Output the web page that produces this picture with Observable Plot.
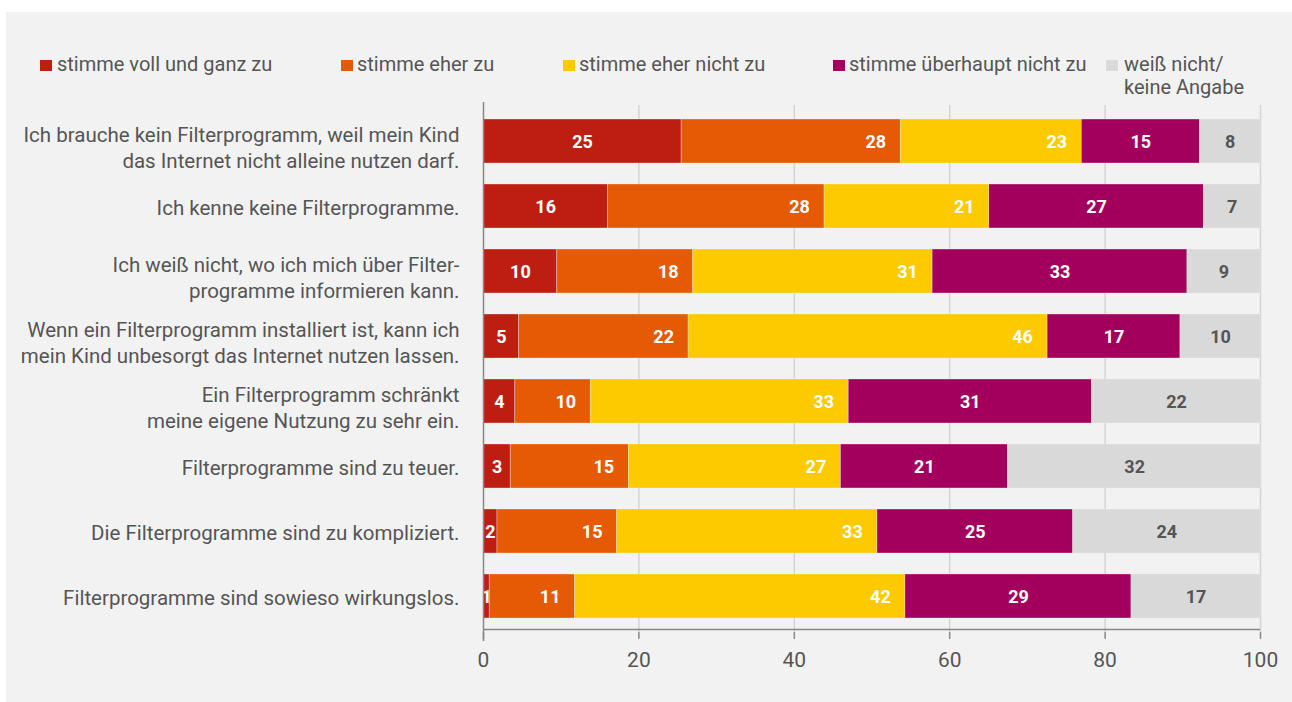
<!DOCTYPE html>
<html><head><meta charset="utf-8">
<script src="https://cdn.jsdelivr.net/npm/d3@7"></script>
<script src="https://cdn.jsdelivr.net/npm/@observablehq/plot@0.6"></script>
<style>
html,body{margin:0;padding:0;background:#fff;width:1292px;height:702px;overflow:hidden;font-family:Roboto,"Noto Sans",sans-serif;}
#panel{position:absolute;left:6px;top:12px;width:1286px;height:690px;background:#f2f2f2;}
#legend{position:absolute;left:0;top:0;width:1286px;height:100px;}
.li{position:absolute;font-size:20px;color:#555;line-height:23px;white-space:nowrap;}
.sw{position:absolute;width:12px;height:11px;}
#chart{position:absolute;left:0;top:84px;}
</style></head>
<body>
<div id="panel"><div id="legend"></div><div id="chart"></div></div>
<script>
const questions = [
  "Ich brauche kein Filterprogramm, weil mein Kind\ndas Internet nicht alleine nutzen darf.",
  "Ich kenne keine Filterprogramme.",
  "Ich weiß nicht, wo ich mich über Filter-\nprogramme informieren kann.",
  "Wenn ein Filterprogramm installiert ist, kann ich\nmein Kind unbesorgt das Internet nutzen lassen.",
  "Ein Filterprogramm schränkt\nmeine eigene Nutzung zu sehr ein.",
  "Filterprogramme sind zu teuer.",
  "Die Filterprogramme sind zu kompliziert.",
  "Filterprogramme sind sowieso wirkungslos."
];
const categories = ["stimme voll und ganz zu","stimme eher zu","stimme eher nicht zu","stimme überhaupt nicht zu","weiß nicht/\nkeine Angabe"];
const colors = ["#be1e12","#e55a05","#fdca00","#a3005e","#d9d9d9"];
// segment values and printed labels
const vollZu      = [25.5, 16.0,  9.5,  4.6,  4.1,  3.5,  1.8,  0.8];
const eherZu      = [28.2, 27.9, 17.5, 21.8,  9.7, 15.2, 15.4, 11.0];
const eherNicht   = [23.3, 21.2, 30.8, 46.2, 33.2, 27.3, 33.5, 42.5];
const garNicht    = [15.2, 27.6, 32.8, 17.1, 31.3, 21.5, 25.2, 29.1];
const weissNicht  = [ 7.8,  7.3,  9.4, 10.3, 21.8, 32.6, 24.1, 16.6];
const lblVoll     = [25,16,10,5,4,3,2,1];
const lblEher     = [28,28,18,22,10,15,15,11];
const lblEherNicht= [23,21,31,46,33,27,33,42];
const lblGarNicht = [15,27,33,17,31,21,25,29];
const lblWeiss    = [8,7,9,10,22,32,24,17];
const xTicks = [0,20,40,60,80,100];

const series = [vollZu, eherZu, eherNicht, garNicht, weissNicht];
const labels = [lblVoll, lblEher, lblEherNicht, lblGarNicht, lblWeiss];
const rows = [];
questions.forEach((q,i)=>categories.forEach((c,j)=>rows.push({q, cat:c, ci:j, value:series[j][i], label:String(labels[j][i])})));

// legend
const legendPos = [[34,51],[335,351],[557,573],[827,843],[1100,1118]];
const lg = document.getElementById("legend");
categories.forEach((c,j)=>{
  const s=document.createElement("div");s.className="sw";s.style.background=colors[j];
  s.style.left=legendPos[j][0]+"px";s.style.top="48px";lg.appendChild(s);
  const t=document.createElement("div");t.className="li";t.style.left=legendPos[j][1]+"px";t.style.top="41px";
  t.innerHTML=c.replace("\n","<br>");lg.appendChild(t);
});

const H = 606, MT = 9, MB = 70;
const step = (H - MT - MB) / questions.length;
const stackOpts = {x:"value", y:"q", z:"cat", order: categories};
const oneLine = questions.filter(q=>!q.includes("\n"));
const twoLine = questions.filter(q=>q.includes("\n"));
const labelOpts = {y:d=>d, x:0, text:d=>d, textAnchor:"end", dx:-24, fontSize:20.5, lineHeight:1.3, fill:"#555"};
const plot = Plot.plot({
  width:1286, height:H,
  marginLeft:477, marginRight:32, marginTop:MT, marginBottom:MB,
  style:{background:"transparent", fontFamily:"Roboto, 'Noto Sans', sans-serif", color:"#555"},
  x:{domain:[0,100], ticks: xTicks},
  y:{domain:questions, paddingInner:0.324, paddingOuter:0.162, axis:null},
  color:{domain:categories, range:colors},
  marks:[
    Plot.gridX(xTicks.filter(d=>d>0), {stroke:"#d4d4d4", strokeOpacity:1, strokeWidth:1.5}),
    Plot.barX(rows, Plot.stackX({...stackOpts, fill:"cat", stroke:"#f2f2f2", strokeWidth:0.6, strokeOpacity:0.6})),
    Plot.text(rows, Plot.stackX({...stackOpts, text: d => (d.ci===1||d.ci===2) ? null : d.label,
      fill: d => d.ci===4 ? "#555" : "#fff", fontWeight:"bold", fontSize:18, dy:1})),
    Plot.text(rows, Plot.stackX2({...stackOpts, text: d => (d.ci===1||d.ci===2) ? d.label : null,
      fill:"#fff", fontWeight:"bold", fontSize:18, dx:-25, dy:1})),
    Plot.ruleY([questions[questions.length-1]], {x1:0, x2:100, dy:step/2, stroke:"#888", strokeWidth:1.5}),
    Plot.ruleX([0], {stroke:"#888", strokeWidth:1.5, insetTop:-3, insetBottom:-9}),
    Plot.axisX({ticks:xTicks, tickSize:7, tickPadding:13, fontSize:21, stroke:"#888", strokeWidth:1.5, fill:"#555", label:null}),
    Plot.text(oneLine, labelOpts),
    Plot.text(twoLine, {...labelOpts, dy:5})
  ]
});
document.getElementById("chart").appendChild(plot);
</script>
</body></html>
